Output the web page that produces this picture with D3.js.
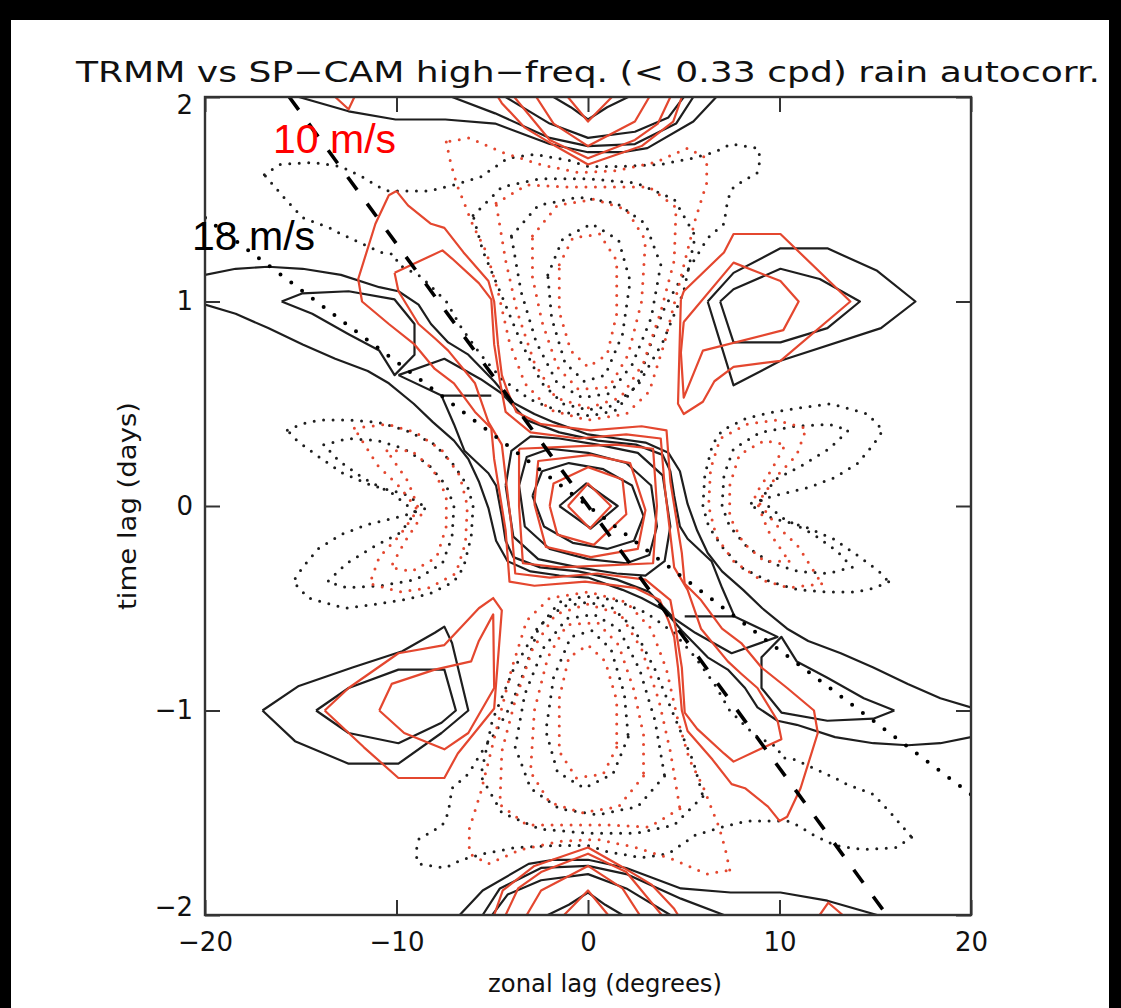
<!DOCTYPE html>
<html><head><meta charset="utf-8">
<script src="https://cdn.jsdelivr.net/npm/d3@7"></script>
<style>
html,body{margin:0;padding:0;background:#000;}
svg{display:block;}
</style></head>
<body>
<script>
// ---------------- DATA ----------------
const xTicks = [-20, -10, 0, 10, 20];
const xTickLabels = ["\u221220", "\u221210", "0", "10", "20"];
const yTicks = [-2, -1, 0, 1, 2];
const yTickLabels = ["\u22122", "\u22121", "0", "1", "2"];
const titleText = "TRMM vs SP\u2212CAM high\u2212freq. (< 0.33 cpd) rain autocorr.";
const xLabel = "zonal lag (degrees)";
const yLabel = "time lag (days)";

// reference phase-speed lines [zonal lag deg, time lag days]
const line10 = [[-15.6, 2], [15.6, -2]];
const line18 = [[-20, 1.41], [20, -1.41]];
const speedLabels = ["10 m/s", "18 m/s"];

// TRMM positive contours (black solid)
const trmmPos = [
  [[-1.8,2],[-0.9,1.95],[0,1.89],[1,1.95],[2.1,2]],
  [[-4.3,2],[-2,1.87],[0,1.80],[2.45,1.83],[4.2,1.9],[5.0,2]],
  [[-7.1,2],[-4.85,1.92],[-2,1.8],[0,1.76],[2.45,1.77],[4.6,1.87],[5.5,2]],
  [[-15.1,2],[-12.5,1.93],[-10.05,1.89],[-7.45,1.89],[-4.85,1.87],[-2,1.77],[0,1.73],[1.8,1.73],[3.1,1.75],[5.5,1.88],[6.7,2]],
  [[-2.1,-2],[-1,-1.95],[0,-1.89],[0.9,-1.95],[1.8,-2]],
  [[-5.0,-2],[-4.2,-1.9],[-2.45,-1.83],[0,-1.80],[2.0,-1.87],[4.3,-2]],
  [[-5.5,-2],[-4.6,-1.87],[-2.45,-1.77],[0,-1.76],[2.0,-1.8],[4.85,-1.92],[7.1,-2]],
  [[-6.7,-2],[-5.5,-1.88],[-3.1,-1.75],[-1.8,-1.73],[0,-1.73],[2.0,-1.77],[4.85,-1.87],[7.45,-1.89],[10.05,-1.89],[12.5,-1.93],[15.1,-2]],
  // S-shaped band edges
  [[-20,1.13],[-18.4,1.16],[-16.7,1.17],[-14.9,1.16],[-12.9,1.13],[-10.9,1.07],[-9.9,1.05],[-8.85,0.985],[-8.2,0.89],[-7.3,0.80],[-6.25,0.74],[-4.9,0.61],[-4.0,0.51],[-2.8,0.45],[-1.8,0.41],[0,0.35],[1.5,0.33],[3,0.31],[4.2,0.26],[4.8,0.17],[5.2,0.01],[5.7,-0.12],[6.25,-0.23],[7.0,-0.32],[8.1,-0.41],[9.1,-0.5],[10.4,-0.6],[11.5,-0.66],[13.2,-0.72],[14.9,-0.79],[16.7,-0.87],[18.4,-0.94],[20,-0.985]],
  [[-20,0.985],[-18.4,0.94],[-16.7,0.87],[-14.9,0.79],[-13.2,0.72],[-11.5,0.66],[-10.4,0.6],[-9.1,0.5],[-8.1,0.41],[-7.0,0.32],[-6.25,0.23],[-5.7,0.12],[-5.2,-0.01],[-4.8,-0.17],[-4.2,-0.27],[-3,-0.32],[-1.5,-0.34],[0,-0.35],[1.8,-0.41],[2.8,-0.45],[4.0,-0.51],[4.9,-0.61],[6.25,-0.74],[7.3,-0.80],[8.2,-0.89],[8.85,-0.985],[9.9,-1.05],[10.9,-1.07],[12.9,-1.13],[14.9,-1.16],[16.7,-1.17],[18.4,-1.16],[20,-1.13]],
  // band wedges
  [[-16,1.0],[-14.9,1.04],[-12.5,1.05],[-10.1,1.01],[-9.06,0.89],[-9.06,0.74],[-10.1,0.64],[-10.9,0.76],[-12.5,0.84],[-14.4,0.94],[-16,1.0]],
  [[16,-1.0],[14.9,-1.04],[12.5,-1.05],[10.1,-1.01],[9.06,-0.89],[9.06,-0.74],[10.1,-0.64],[10.9,-0.76],[12.5,-0.84],[14.4,-0.94],[16,-1.0]],
  // middle S contour
  [[-9.9,0.64],[-7.5,0.72],[-5.6,0.62],[-4.5,0.55],[-3.2,0.42],[-1.5,0.36],[0.5,0.32],[2.5,0.30],[3.9,0.25],[4.3,0.17],[4.5,0.05],[4.8,-0.1],[5.2,-0.16],[6.45,-0.27],[7.0,-0.4],[7.65,-0.54],[9.9,-0.64],[7.5,-0.72],[5.6,-0.62],[4.5,-0.55],[3.2,-0.42],[1.5,-0.36],[-0.5,-0.32],[-2.5,-0.30],[-3.9,-0.25],[-4.3,-0.17],[-4.5,-0.05],[-4.8,0.1],[-5.2,0.16],[-6.45,0.27],[-7.0,0.4],[-7.65,0.54],[-9.9,0.64]],
  [[-7.65,0.54],[-5.05,0.54]],
  [[5.05,-0.54],[7.65,-0.54]],
  // central peak
  [[-4.3,0.1],[-4.0,0.27],[-3,0.34],[-1.5,0.33],[0.5,0.3],[2.6,0.26],[3.9,0.15],[4.3,-0.1],[4.0,-0.27],[3,-0.34],[1.5,-0.33],[-0.5,-0.3],[-2.6,-0.26],[-3.9,-0.15],[-4.3,0.1]],
  [[-3.6,0.1],[-3.2,0.24],[-2,0.28],[0,0.26],[2,0.21],[3.3,0.1],[3.6,-0.1],[3.2,-0.24],[2,-0.28],[0,-0.26],[-2,-0.21],[-3.3,-0.1],[-3.6,0.1]],
  [[-2.9,0.05],[-2.4,0.17],[-1,0.21],[0.8,0.18],[2.3,0.1],[2.9,-0.05],[2.4,-0.17],[1,-0.21],[-0.8,-0.18],[-2.3,-0.1],[-2.9,0.05]],
  [[-1.5,0],[-0.1,0.11],[1.55,0],[0.15,-0.11],[-1.5,0]],
  // side lobes
  [[6.25,1.0],[7.6,1.14],[10.05,1.26],[12.5,1.26],[15.1,1.15],[17.1,1.0],[15.3,0.87],[10.05,0.71],[7.6,0.59],[6.25,1.0]],
  [[6.9,1.0],[7.6,1.06],[10.05,1.16],[12.1,1.11],[14.2,1.0],[12.5,0.87],[10.05,0.80],[7.6,0.80],[6.9,1.0]],
  [[-17.0,-1.0],[-15.1,-0.88],[-12.3,-0.79],[-9.7,-0.71],[-8.0,-0.62],[-7.5,-0.59],[-7.1,-0.67],[-6.25,-1.0],[-7.65,-1.11],[-9.9,-1.26],[-12.5,-1.26],[-15.3,-1.15],[-17.0,-1.0]],
  [[-14.2,-1.0],[-12.5,-0.89],[-9.9,-0.80],[-7.5,-0.80],[-6.9,-1.0],[-7.65,-1.06],[-9.9,-1.16],[-12.5,-1.11],[-14.2,-1.0]]
];

// SP-CAM positive contours (red solid)
const spcamPos = [
  [[-1.05,2],[0,1.88],[1.25,2]],
  [[-2.7,2],[-1.8,1.87],[0,1.76],[2.45,1.88],[3.2,2]],
  [[-3.85,2],[-2,1.79],[0,1.70],[2.45,1.79],[3.65,1.87],[4.3,2]],
  [[-4.7,2],[-4.5,1.97],[-3.3,1.85],[-1.7,1.76],[0,1.67],[2.8,1.76],[4.45,1.88],[4.9,2]],
  [[-13.2,2],[-12.5,1.94],[-12.2,2]],
  [[-1.25,-2],[0,-1.88],[1.05,-2]],
  [[-3.2,-2],[-2.45,-1.88],[0,-1.76],[1.8,-1.87],[2.7,-2]],
  [[-4.3,-2],[-3.65,-1.87],[-2.45,-1.79],[0,-1.70],[2.0,-1.79],[3.85,-2]],
  [[-4.9,-2],[-4.45,-1.88],[-2.8,-1.76],[0,-1.67],[1.7,-1.76],[3.3,-1.85],[4.5,-1.97],[4.7,-2]],
  [[12.1,-2],[12.55,-1.94],[13.3,-2]],
  // outer S
  [[-10,1.54],[-9.4,1.47],[-8.2,1.38],[-7.5,1.36],[-6.5,1.24],[-5.2,1.1],[-4.9,1.0],[-4.7,0.79],[-4.5,0.64],[-4.2,0.56],[-3.75,0.46],[-2.45,0.40],[0.15,0.37],[2.8,0.39],[4.1,0.37],[4.3,0.12],[4.9,-0.23],[5.05,-0.38],[5.9,-0.46],[7.0,-0.6],[8.0,-0.67],[9.06,-0.79],[10.4,-0.89],[11.8,-1.0],[12,-1.11],[11.1,-1.38],[10.4,-1.52],[10,-1.54],[9.4,-1.47],[8.2,-1.38],[7.5,-1.36],[6.5,-1.24],[5.2,-1.1],[4.9,-1.0],[4.7,-0.79],[4.5,-0.64],[4.2,-0.56],[3.75,-0.46],[2.45,-0.40],[-0.15,-0.37],[-2.8,-0.39],[-4.1,-0.37],[-4.3,-0.12],[-4.9,0.23],[-5.05,0.38],[-5.9,0.46],[-7.0,0.6],[-8.0,0.67],[-9.06,0.79],[-10.4,0.89],[-11.8,1.0],[-12,1.11],[-11.1,1.38],[-10.4,1.52],[-10,1.54]],
  // inner S
  [[-10.1,1.14],[-7.6,1.25],[-7.1,1.21],[-5.7,1.09],[-5.05,1.01],[-4.9,0.79],[-4.6,0.61],[-4.3,0.46],[-3,0.36],[-0.5,0.33],[2,0.35],[3.8,0.33],[4.0,0.1],[4.5,-0.3],[5.2,-0.41],[5.9,-0.6],[7.3,-0.76],[8,-0.82],[8.85,-0.89],[9.9,-1.05],[10.1,-1.14],[7.6,-1.25],[7.1,-1.21],[5.7,-1.09],[5.05,-1.01],[4.9,-0.79],[4.6,-0.61],[4.3,-0.46],[3,-0.36],[0.5,-0.33],[-2,-0.35],[-3.8,-0.33],[-4.0,-0.1],[-4.5,0.3],[-5.2,0.41],[-5.9,0.6],[-7.3,0.76],[-8,0.82],[-8.85,0.89],[-9.9,1.05],[-10.1,1.14]],
  // central peak
  [[-3.6,0.28],[-1,0.29],[1.5,0.3],[3.4,0.28],[3.6,0],[3.4,-0.28],[1,-0.29],[-1.5,-0.3],[-3.4,-0.28],[-3.6,0],[-3.6,0.28]],
  [[-2.8,0.01],[-2.6,0.22],[0.15,0.25],[2.2,0.21],[3.0,-0.02],[2.6,-0.21],[0.15,-0.25],[-2.2,-0.2],[-2.8,0.01]],
  [[-2.0,0.0],[-1.8,0.11],[0,0.19],[1.8,0.13],[2.0,-0.04],[0.3,-0.19],[-1.6,-0.14],[-2.0,0.0]],
  [[-1.05,0],[0,0.11],[1.2,0],[0.1,-0.11],[-1.05,0]],
  // side lobes
  [[4.85,1.01],[5.0,1.05],[7.1,1.24],[7.6,1.33],[10.05,1.33],[13.7,1.0],[10.05,0.71],[7.6,0.68],[6.6,0.61],[6.0,0.51],[5.0,0.45],[4.7,0.5],[4.85,1.01]],
  [[5.0,0.9],[7.6,1.19],[10.05,1.1],[11,1.0],[10.2,0.86],[6.0,0.76],[5.0,0.53],[4.85,0.75],[5.0,0.9]],
  [[-13.75,-1.0],[-12.5,-0.89],[-9.9,-0.72],[-7.5,-0.68],[-5.7,-0.5],[-4.95,-0.45],[-4.5,-0.51],[-4.9,-0.99],[-6.8,-1.21],[-7.5,-1.33],[-9.9,-1.33],[-11.7,-1.18],[-13.75,-1.0]],
  [[-10.9,-1.0],[-10.25,-0.87],[-8.0,-0.80],[-6.1,-0.76],[-5.7,-0.66],[-4.95,-0.53],[-4.9,-0.89],[-6.25,-1.11],[-7.5,-1.19],[-9.6,-1.11],[-10.9,-1.0]]
];

// TRMM negative contours (black dotted)
const trmmNeg = [
  [[-16.9,1.62],[-16.1,1.67],[-14.4,1.68],[-12.9,1.66],[-11.8,1.61],[-10.9,1.56],[-10.4,1.54],[-8.3,1.54],[-7,1.57],[-5.6,1.61],[-4.2,1.7],[-2.8,1.72],[-1.0,1.69],[0,1.66],[1.7,1.66],[3.8,1.67],[5.4,1.7],[6.6,1.73],[7.45,1.77],[8.85,1.75],[9.0,1.7],[8.85,1.63],[8.3,1.6],[7.6,1.56],[7.3,1.5],[7.2,1.44],[7.1,1.38],[6.25,1.31],[5.4,1.18],[4.85,1.11],[4,0.97],[3.3,0.8],[2.6,0.6],[1.5,0.47],[0.15,0.44],[-1.4,0.46],[-3,0.52],[-4.5,0.62],[-5.6,0.74],[-6.6,0.87],[-7.4,1.0],[-8.7,1.12],[-9.9,1.18],[-10.1,1.23],[-10.8,1.24],[-11.5,1.27],[-12.2,1.30],[-12.9,1.33],[-13.5,1.36],[-14.9,1.41],[-15.8,1.5],[-16.9,1.62]],
  [[-6,1.42],[-4.5,1.56],[-2.5,1.6],[0,1.6],[2.5,1.58],[4.5,1.5],[5.6,1.32],[5.0,1.05],[3.9,0.8],[2.6,0.59],[1.3,0.49],[0,0.47],[-1.3,0.5],[-2.4,0.6],[-3.5,0.8],[-4.6,1.05],[-5.5,1.25],[-6,1.42]],
  [[-4,1.32],[-2.6,1.47],[-0.5,1.51],[1.5,1.48],[3,1.38],[3.8,1.18],[3.3,0.92],[2.3,0.69],[1.1,0.55],[-0.3,0.53],[-1.6,0.6],[-2.7,0.8],[-3.5,1.05],[-4,1.32]],
  [[-2.1,1.13],[-1.3,1.31],[0.2,1.38],[1.6,1.3],[2.2,1.1],[1.8,0.84],[0.9,0.64],[-0.2,0.61],[-1.2,0.7],[-1.9,0.92],[-2.1,1.13]],
  [[16.9,-1.62],[16.1,-1.67],[14.4,-1.68],[12.9,-1.66],[11.8,-1.61],[10.9,-1.56],[10.4,-1.54],[8.3,-1.54],[7,-1.57],[5.6,-1.61],[4.2,-1.7],[2.8,-1.72],[1.0,-1.69],[0,-1.66],[-1.7,-1.66],[-3.8,-1.67],[-5.4,-1.7],[-6.6,-1.73],[-7.45,-1.77],[-8.85,-1.75],[-9.0,-1.7],[-8.85,-1.63],[-8.3,-1.6],[-7.6,-1.56],[-7.3,-1.5],[-7.2,-1.44],[-7.1,-1.38],[-6.25,-1.31],[-5.4,-1.18],[-4.85,-1.11],[-4,-0.97],[-3.3,-0.8],[-2.6,-0.6],[-1.5,-0.47],[-0.15,-0.44],[1.4,-0.46],[3,-0.52],[4.5,-0.62],[5.6,-0.74],[6.6,-0.87],[7.4,-1.0],[8.7,-1.12],[9.9,-1.18],[10.1,-1.23],[10.8,-1.24],[11.5,-1.27],[12.2,-1.30],[12.9,-1.33],[13.5,-1.36],[14.9,-1.41],[15.8,-1.5],[16.9,-1.62]],
  [[6,-1.42],[4.5,-1.56],[2.5,-1.6],[0,-1.6],[-2.5,-1.58],[-4.5,-1.5],[-5.6,-1.32],[-5.0,-1.05],[-3.9,-0.8],[-2.6,-0.59],[-1.3,-0.49],[0,-0.47],[1.3,-0.5],[2.4,-0.6],[3.5,-0.8],[4.6,-1.05],[5.5,-1.25],[6,-1.42]],
  [[4,-1.32],[2.6,-1.47],[0.5,-1.51],[-1.5,-1.48],[-3,-1.38],[-3.8,-1.18],[-3.3,-0.92],[-2.3,-0.69],[-1.1,-0.55],[0.3,-0.53],[1.6,-0.6],[2.7,-0.8],[3.5,-1.05],[4,-1.32]],
  [[2.1,-1.13],[1.3,-1.31],[-0.2,-1.38],[-1.6,-1.3],[-2.2,-1.1],[-1.8,-0.84],[-0.9,-0.64],[0.2,-0.61],[1.2,-0.7],[1.9,-0.92],[2.1,-1.13]],
  [[-15.7,0.37],[-15,0.4],[-14,0.42],[-12.5,0.42],[-11,0.41],[-9.5,0.37],[-8,0.3],[-7,0.2],[-6.3,0.1],[-6.0,0],[-6.1,-0.15],[-6.5,-0.3],[-7,-0.37],[-8.3,-0.43],[-9.7,-0.46],[-11.1,-0.48],[-12.7,-0.5],[-14.6,-0.45],[-15.4,-0.37],[-14.9,-0.3],[-14.1,-0.21],[-12.9,-0.14],[-11.5,-0.09],[-9.7,-0.05],[-8.4,-0.01],[-9.6,0.06],[-11.3,0.1],[-12.8,0.16],[-14.2,0.25],[-15.2,0.32],[-15.7,0.37]],
  [[-13.8,0.3],[-12.5,0.33],[-11,0.32],[-9.6,0.28],[-8.3,0.2],[-7.4,0.1],[-7.0,0],[-7.1,-0.15],[-7.6,-0.28],[-9,-0.36],[-10.8,-0.39],[-12.6,-0.4],[-13.6,-0.37],[-12.6,-0.28],[-11.2,-0.2],[-9.8,-0.13],[-9.0,-0.03],[-10.2,0.06],[-11.8,0.14],[-13,0.22],[-13.8,0.3]],
  [[15.7,-0.37],[15,-0.4],[14,-0.42],[12.5,-0.42],[11,-0.41],[9.5,-0.37],[8,-0.3],[7,-0.2],[6.3,-0.1],[6.0,0],[6.1,0.15],[6.5,0.3],[7,0.37],[8.3,0.43],[9.7,0.46],[11.1,0.48],[12.7,0.5],[14.6,0.45],[15.4,0.37],[14.9,0.3],[14.1,0.21],[12.9,0.14],[11.5,0.09],[9.7,0.05],[8.4,0.01],[9.6,-0.06],[11.3,-0.1],[12.8,-0.16],[14.2,-0.25],[15.2,-0.32],[15.7,-0.37]],
  [[13.8,-0.3],[12.5,-0.33],[11,-0.32],[9.6,-0.28],[8.3,-0.2],[7.4,-0.1],[7.0,0],[7.1,0.15],[7.6,0.28],[9,0.36],[10.8,0.39],[12.6,0.4],[13.6,0.37],[12.6,0.28],[11.2,0.2],[9.8,0.13],[9.0,0.03],[10.2,-0.06],[11.8,-0.14],[13,-0.22],[13.8,-0.3]]
];

// SP-CAM negative contours (red dotted)
const spcamNeg = [
  [[-7.4,1.78],[-7.2,1.69],[-7.0,1.62],[-6.8,1.56],[-6.5,1.49],[-6.0,1.37],[-5.3,1.24],[-4.7,1.05],[-4.1,0.8],[-3.3,0.6],[-2.0,0.47],[0,0.42],[2,0.45],[3.2,0.56],[4.0,0.8],[4.8,1.1],[5.6,1.4],[6.2,1.58],[6.2,1.7],[5.2,1.75],[3.5,1.68],[1.5,1.64],[-0.5,1.63],[-2.5,1.67],[-4.5,1.73],[-6.2,1.8],[-7.4,1.78]],
  [[-4.8,1.48],[-3.2,1.57],[-1,1.56],[1.2,1.56],[3.2,1.56],[4.6,1.46],[4.5,1.2],[3.8,0.95],[2.9,0.7],[1.7,0.53],[0,0.48],[-1.7,0.53],[-2.8,0.7],[-3.7,0.95],[-4.3,1.2],[-4.8,1.48]],
  [[-2.9,1.32],[-1.6,1.47],[0.3,1.5],[2,1.45],[3,1.3],[2.8,1.0],[2.1,0.74],[1.1,0.58],[-0.5,0.57],[-1.6,0.68],[-2.4,0.9],[-2.9,1.12],[-2.9,1.32]],
  [[-1.5,1.18],[-0.8,1.31],[0.6,1.33],[1.5,1.2],[1.5,0.94],[1.0,0.74],[0,0.68],[-0.9,0.76],[-1.5,0.95],[-1.5,1.18]],
  [[7.4,-1.78],[7.2,-1.69],[7.0,-1.62],[6.8,-1.56],[6.5,-1.49],[6.0,-1.37],[5.3,-1.24],[4.7,-1.05],[4.1,-0.8],[3.3,-0.6],[2.0,-0.47],[0,-0.42],[-2,-0.45],[-3.2,-0.56],[-4.0,-0.8],[-4.8,-1.1],[-5.6,-1.4],[-6.2,-1.58],[-6.2,-1.7],[-5.2,-1.75],[-3.5,-1.68],[-1.5,-1.64],[0.5,-1.63],[2.5,-1.67],[4.5,-1.73],[6.2,-1.8],[7.4,-1.78]],
  [[4.8,-1.48],[3.2,-1.57],[1,-1.56],[-1.2,-1.56],[-3.2,-1.56],[-4.6,-1.46],[-4.5,-1.2],[-3.8,-0.95],[-2.9,-0.7],[-1.7,-0.53],[0,-0.48],[1.7,-0.53],[2.8,-0.7],[3.7,-0.95],[4.3,-1.2],[4.8,-1.48]],
  [[2.9,-1.32],[1.6,-1.47],[-0.3,-1.5],[-2,-1.45],[-3,-1.3],[-2.8,-1.0],[-2.1,-0.74],[-1.1,-0.58],[0.5,-0.57],[1.6,-0.68],[2.4,-0.9],[2.9,-1.12],[2.9,-1.32]],
  [[1.5,-1.18],[0.8,-1.31],[-0.6,-1.33],[-1.5,-1.2],[-1.5,-0.94],[-1.0,-0.74],[0,-0.68],[0.9,-0.76],[1.5,-0.95],[1.5,-1.18]],
  [[-12.2,0.38],[-10.5,0.4],[-9,0.36],[-7.6,0.27],[-6.7,0.15],[-6.3,0],[-6.4,-0.18],[-6.9,-0.33],[-8.3,-0.4],[-9.8,-0.42],[-11.4,-0.38],[-10.9,-0.25],[-9.8,-0.14],[-8.9,-0.02],[-9.8,0.09],[-11,0.2],[-12.2,0.38]],
  [[-10.5,0.27],[-9.2,0.27],[-8.1,0.18],[-7.4,0.05],[-7.4,-0.1],[-7.9,-0.25],[-9.2,-0.32],[-10.3,-0.3],[-9.6,-0.18],[-8.7,-0.05],[-9.4,0.12],[-10.5,0.27]],
  [[12.2,-0.38],[10.5,-0.4],[9,-0.36],[7.6,-0.27],[6.7,-0.15],[6.3,0],[6.4,0.18],[6.9,0.33],[8.3,0.4],[9.8,0.42],[11.4,0.38],[10.9,0.25],[9.8,0.14],[8.9,0.02],[9.8,-0.09],[11,-0.2],[12.2,-0.38]],
  [[10.5,-0.27],[9.2,-0.27],[8.1,-0.18],[7.4,-0.05],[7.4,0.1],[7.9,0.25],[9.2,0.32],[10.3,0.3],[9.6,0.18],[8.7,0.05],[9.4,-0.12],[10.5,-0.27]]
];

// ---------------- DRAW ----------------
const W = 1121, H = 1008;
const BLACK = "#1e1e1e", RED = "#e4472f";
const svg = d3.select("body").append("svg").attr("width", W).attr("height", H);
svg.append("rect").attr("x", 11).attr("y", 20).attr("width", 1098).attr("height", H - 20).attr("fill", "#fff");

const x = d3.scaleLinear().domain([-20, 20]).range([205, 971]);
const y = d3.scaleLinear().domain([-2, 2]).range([915, 97]);
const line = d3.line().x(d => x(d[0])).y(d => y(d[1]));

svg.append("defs").append("clipPath").attr("id", "plotclip")
  .append("rect").attr("x", x(-20)).attr("y", y(2)).attr("width", x(20) - x(-20)).attr("height", y(-2) - y(2));

const g = svg.append("g").attr("clip-path", "url(#plotclip)");

function drawSet(data, color, dotted, cls) {
  g.append("g").attr("class", cls).selectAll("path").data(data).join("path")
    .attr("d", line).attr("fill", "none").attr("stroke", color)
    .attr("stroke-width", dotted ? 3 : 2.2)
    .attr("stroke-linejoin", "round")
    .attr("stroke-linecap", dotted ? "round" : "butt")
    .attr("stroke-dasharray", dotted ? "0 9.5" : null);
}
drawSet(trmmNeg, BLACK, true, "trmm-neg");
drawSet(spcamNeg, RED, true, "spcam-neg");
drawSet(trmmPos, BLACK, false, "trmm-pos");
drawSet(spcamPos, RED, false, "spcam-pos");

// phase speed lines
g.append("path").datum(line10).attr("d", line).attr("fill", "none").attr("stroke", "#000")
  .attr("stroke-width", 3.6).attr("stroke-dasharray", "16 17");
g.append("path").datum(line18).attr("d", line).attr("fill", "none").attr("stroke", "#000")
  .attr("stroke-width", 4).attr("stroke-linecap", "round").attr("stroke-dasharray", "0 13.5");

// frame
svg.append("rect").attr("x", x(-20)).attr("y", y(2)).attr("width", x(20) - x(-20)).attr("height", y(-2) - y(2))
  .attr("fill", "none").attr("stroke", "#333").attr("stroke-width", 2.4);

const tickFont = "'DejaVu Sans', sans-serif";
const axB = svg.append("g").attr("transform", `translate(0,${y(-2)})`)
  .call(d3.axisBottom(x).tickValues(xTicks).tickSize(-15).tickPadding(18).tickFormat((d, i) => xTickLabels[i]));
const axT = svg.append("g").attr("transform", `translate(0,${y(2)})`)
  .call(d3.axisTop(x).tickValues(xTicks).tickSize(-15).tickFormat(""));
const axL = svg.append("g").attr("transform", `translate(${x(-20)},0)`)
  .call(d3.axisLeft(y).tickValues(yTicks).tickSize(-15).tickPadding(12).tickFormat((d, i) => yTickLabels[i]));
const axR = svg.append("g").attr("transform", `translate(${x(20)},0)`)
  .call(d3.axisRight(y).tickValues(yTicks).tickSize(-15).tickFormat(""));
[axB, axT, axL, axR].forEach(a => {
  a.select(".domain").remove();
  a.selectAll(".tick line").attr("stroke", "#333").attr("stroke-width", 2);
  a.selectAll("text").attr("fill", "#111").style("font-family", tickFont).style("font-size", "26px");
});
// end labels sit just inside the frame, as in the original
axL.selectAll(".tick text").attr("dy", d => d === 2 ? "0.62em" : d === -2 ? "0.02em" : "0.32em");

// title & axis labels
svg.append("text").attr("x", 588).attr("y", 82).attr("text-anchor", "middle")
  .attr("textLength", 1024).attr("lengthAdjust", "spacingAndGlyphs")
  .style("font-family", tickFont).style("font-size", "29px").attr("fill", "#111").text(titleText);
svg.append("text").attr("x", 605).attr("y", 992).attr("text-anchor", "middle")
  .attr("textLength", 234).attr("lengthAdjust", "spacingAndGlyphs")
  .style("font-family", tickFont).style("font-size", "25px").attr("fill", "#111").text(xLabel);
svg.append("text").attr("transform", `translate(136,${y(0)}) rotate(-90)`).attr("text-anchor", "middle")
  .attr("textLength", 208).attr("lengthAdjust", "spacingAndGlyphs")
  .style("font-family", tickFont).style("font-size", "25px").attr("fill", "#111").text(yLabel);

// speed annotations
svg.append("text").attr("x", 273).attr("y", 153).style("font-family", "'Liberation Sans', Arial, sans-serif")
  .style("font-size", "41px").attr("fill", "#ff0000").text(speedLabels[0]);
svg.append("text").attr("x", 192).attr("y", 250).style("font-family", "'Liberation Sans', Arial, sans-serif")
  .style("font-size", "41px").attr("fill", "#000").text(speedLabels[1]);
</script>
</body></html>
